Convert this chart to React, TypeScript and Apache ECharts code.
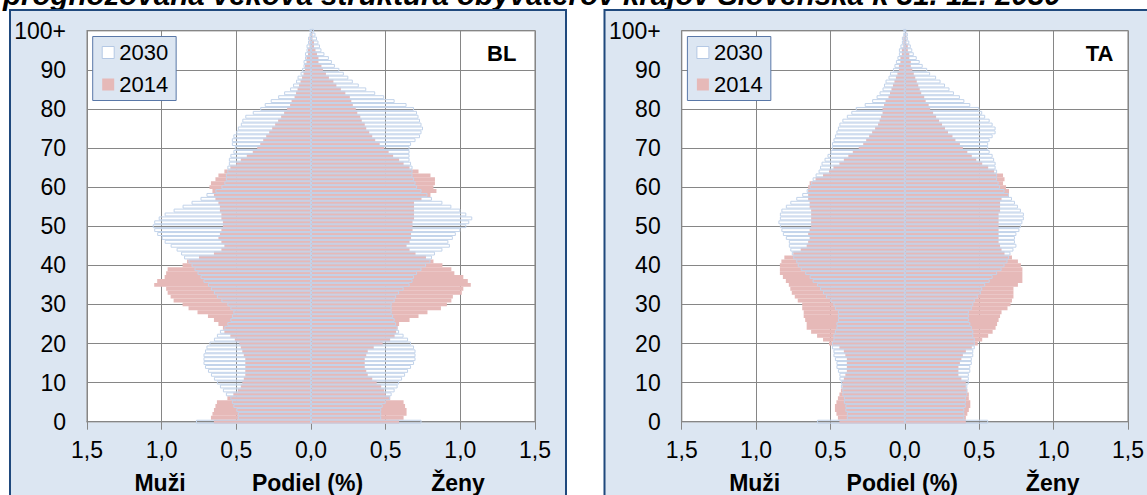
import React, { useEffect, useRef } from 'react';
import * as echarts from 'echarts';

// Age categories 0 .. 100+
const AGES: string[] = Array.from({ length: 101 }, (_, i) => (i === 100 ? '100+' : String(i)));
const SERIES_NAMES = ['2030', '2014'];
const PANEL_CODES = ['BL', 'TA'];
const X_TITLES = ['Muži', 'Podiel (%)', 'Ženy'];
const TITLE = 'prognozovaná veková štruktúra obyvateľov krajov Slovenska k 31. 12. 2030';

// BL – shares (%) by single year of age, 0..100+
const BL_M_2030 = [
  0.77, 0.49, 0.49, 0.50, 0.52, 0.53, 0.54, 0.57, 0.59, 0.61,
  0.63, 0.65, 0.67, 0.69, 0.71, 0.72, 0.72, 0.72, 0.71, 0.70,
  0.68, 0.65, 0.63, 0.61, 0.58, 0.56, 0.54, 0.53, 0.52, 0.54,
  0.56, 0.60, 0.63, 0.65, 0.67, 0.69, 0.72, 0.74, 0.76, 0.78,
  0.80, 0.82, 0.85, 0.87, 0.90, 0.94, 0.98, 1.00, 1.03, 1.05,
  1.06, 1.05, 1.02, 0.98, 0.92, 0.86, 0.80, 0.74, 0.70, 0.64,
  0.60, 0.58, 0.57, 0.57, 0.56, 0.56, 0.55, 0.55, 0.54, 0.52,
  0.51, 0.53, 0.53, 0.52, 0.50, 0.49, 0.47, 0.46, 0.44, 0.39,
  0.34, 0.31, 0.27, 0.22, 0.18, 0.14, 0.12, 0.10, 0.09, 0.07,
  0.06, 0.05, 0.05, 0.04, 0.04, 0.03, 0.03, 0.02, 0.02, 0.01,
  0.01,
];
const BL_M_2014 = [
  0.65, 0.67, 0.66, 0.65, 0.64, 0.63, 0.56, 0.52, 0.49, 0.47,
  0.46, 0.45, 0.44, 0.44, 0.44, 0.44, 0.44, 0.45, 0.46, 0.47,
  0.48, 0.51, 0.54, 0.58, 0.59, 0.62, 0.65, 0.69, 0.76, 0.82,
  0.86, 0.92, 0.94, 0.96, 0.97, 1.05, 1.03, 0.98, 0.97, 0.96,
  0.86, 0.83, 0.75, 0.65, 0.60, 0.58, 0.60, 0.62, 0.61, 0.60,
  0.59, 0.59, 0.60, 0.60, 0.61, 0.61, 0.62, 0.64, 0.65, 0.66,
  0.68, 0.67, 0.64, 0.62, 0.58, 0.54, 0.50, 0.47, 0.43, 0.39,
  0.36, 0.34, 0.32, 0.30, 0.28, 0.26, 0.24, 0.22, 0.20, 0.18,
  0.16, 0.14, 0.13, 0.11, 0.10, 0.09, 0.08, 0.07, 0.06, 0.05,
  0.04, 0.04, 0.03, 0.03, 0.02, 0.02, 0.01, 0.01, 0.01, 0.00,
  0.00,
];
const BL_F_2030 = [
  0.74, 0.47, 0.47, 0.47, 0.48, 0.50, 0.53, 0.54, 0.56, 0.58,
  0.59, 0.61, 0.63, 0.65, 0.67, 0.69, 0.70, 0.70, 0.70, 0.69,
  0.67, 0.65, 0.62, 0.59, 0.58, 0.57, 0.56, 0.55, 0.54, 0.54,
  0.54, 0.56, 0.57, 0.59, 0.62, 0.66, 0.68, 0.69, 0.71, 0.74,
  0.77, 0.80, 0.81, 0.83, 0.88, 0.93, 0.92, 0.95, 0.97, 1.00,
  1.04, 1.06, 1.08, 1.04, 1.00, 0.94, 0.88, 0.81, 0.78, 0.74,
  0.71, 0.70, 0.69, 0.68, 0.68, 0.68, 0.67, 0.66, 0.66, 0.66,
  0.66, 0.67, 0.70, 0.73, 0.74, 0.75, 0.74, 0.73, 0.72, 0.71,
  0.69, 0.64, 0.56, 0.49, 0.43, 0.37, 0.32, 0.28, 0.25, 0.22,
  0.19, 0.16, 0.14, 0.12, 0.09, 0.07, 0.06, 0.05, 0.04, 0.03,
  0.02,
];
const BL_F_2014 = [
  0.59, 0.62, 0.64, 0.64, 0.63, 0.62, 0.53, 0.50, 0.49, 0.47,
  0.44, 0.41, 0.38, 0.37, 0.36, 0.36, 0.36, 0.37, 0.38, 0.42,
  0.48, 0.53, 0.56, 0.57, 0.58, 0.59, 0.66, 0.72, 0.78, 0.87,
  0.91, 0.94, 0.95, 1.01, 1.02, 1.07, 1.05, 1.02, 0.96, 0.94,
  0.88, 0.82, 0.77, 0.70, 0.66, 0.64, 0.66, 0.67, 0.67, 0.68,
  0.68, 0.68, 0.69, 0.69, 0.69, 0.69, 0.69, 0.74, 0.80, 0.84,
  0.82, 0.83, 0.83, 0.80, 0.72, 0.66, 0.62, 0.59, 0.55, 0.52,
  0.49, 0.46, 0.43, 0.41, 0.39, 0.37, 0.36, 0.34, 0.33, 0.31,
  0.30, 0.28, 0.27, 0.26, 0.23, 0.20, 0.17, 0.15, 0.12, 0.10,
  0.08, 0.07, 0.05, 0.05, 0.04, 0.03, 0.02, 0.02, 0.01, 0.01,
  0.00,
];

// TA – shares (%) by single year of age, 0..100+
const TA_M_2030 = [
  0.59, 0.39, 0.39, 0.40, 0.40, 0.41, 0.41, 0.42, 0.42, 0.43,
  0.43, 0.44, 0.44, 0.45, 0.46, 0.46, 0.47, 0.48, 0.48, 0.49,
  0.49, 0.48, 0.48, 0.47, 0.46, 0.46, 0.45, 0.45, 0.45, 0.47,
  0.48, 0.50, 0.53, 0.55, 0.57, 0.59, 0.62, 0.64, 0.67, 0.70,
  0.72, 0.73, 0.75, 0.76, 0.77, 0.78, 0.78, 0.80, 0.82, 0.83,
  0.84, 0.85, 0.84, 0.84, 0.83, 0.80, 0.77, 0.73, 0.69, 0.66,
  0.64, 0.63, 0.62, 0.60, 0.58, 0.57, 0.56, 0.54, 0.52, 0.50,
  0.49, 0.49, 0.48, 0.47, 0.46, 0.45, 0.44, 0.42, 0.39, 0.36,
  0.33, 0.27, 0.22, 0.19, 0.17, 0.15, 0.14, 0.13, 0.11, 0.10,
  0.08, 0.07, 0.06, 0.05, 0.04, 0.04, 0.03, 0.02, 0.02, 0.01,
  0.01,
];
const TA_M_2014 = [
  0.44, 0.45, 0.46, 0.47, 0.47, 0.46, 0.45, 0.44, 0.43, 0.42,
  0.42, 0.41, 0.40, 0.39, 0.39, 0.39, 0.39, 0.40, 0.41, 0.44,
  0.51, 0.55, 0.59, 0.63, 0.66, 0.66, 0.67, 0.68, 0.68, 0.69,
  0.69, 0.72, 0.74, 0.76, 0.77, 0.78, 0.80, 0.82, 0.84, 0.84,
  0.84, 0.83, 0.81, 0.75, 0.70, 0.66, 0.65, 0.64, 0.65, 0.64,
  0.63, 0.63, 0.63, 0.63, 0.63, 0.64, 0.64, 0.65, 0.65, 0.65,
  0.65, 0.64, 0.60, 0.55, 0.51, 0.48, 0.44, 0.41, 0.38, 0.35,
  0.31, 0.28, 0.26, 0.24, 0.22, 0.20, 0.18, 0.17, 0.16, 0.15,
  0.15, 0.14, 0.13, 0.11, 0.10, 0.09, 0.08, 0.07, 0.06, 0.05,
  0.04, 0.04, 0.03, 0.03, 0.02, 0.02, 0.01, 0.01, 0.01, 0.00,
  0.00,
];
const TA_F_2030 = [
  0.56, 0.40, 0.40, 0.40, 0.41, 0.41, 0.41, 0.42, 0.42, 0.42,
  0.43, 0.43, 0.43, 0.44, 0.44, 0.45, 0.45, 0.46, 0.46, 0.47,
  0.47, 0.47, 0.46, 0.46, 0.45, 0.44, 0.43, 0.43, 0.43, 0.45,
  0.46, 0.47, 0.49, 0.51, 0.52, 0.54, 0.57, 0.59, 0.62, 0.65,
  0.67, 0.69, 0.70, 0.71, 0.73, 0.75, 0.74, 0.74, 0.75, 0.77,
  0.78, 0.79, 0.80, 0.80, 0.78, 0.76, 0.74, 0.72, 0.70, 0.67,
  0.64, 0.63, 0.62, 0.62, 0.62, 0.61, 0.61, 0.60, 0.59, 0.57,
  0.56, 0.56, 0.57, 0.59, 0.61, 0.61, 0.59, 0.57, 0.54, 0.52,
  0.50, 0.44, 0.40, 0.37, 0.33, 0.30, 0.27, 0.24, 0.21, 0.17,
  0.15, 0.12, 0.10, 0.08, 0.06, 0.05, 0.04, 0.03, 0.02, 0.02,
  0.01,
];
const TA_F_2014 = [
  0.41, 0.41, 0.42, 0.43, 0.44, 0.44, 0.43, 0.43, 0.42, 0.41,
  0.41, 0.38, 0.36, 0.36, 0.36, 0.37, 0.38, 0.39, 0.41, 0.45,
  0.49, 0.52, 0.56, 0.59, 0.61, 0.62, 0.63, 0.64, 0.65, 0.69,
  0.71, 0.72, 0.73, 0.73, 0.73, 0.76, 0.79, 0.79, 0.79, 0.79,
  0.78, 0.76, 0.72, 0.67, 0.65, 0.64, 0.63, 0.63, 0.63, 0.63,
  0.63, 0.63, 0.63, 0.63, 0.64, 0.64, 0.64, 0.65, 0.70, 0.70,
  0.68, 0.66, 0.67, 0.66, 0.60, 0.56, 0.52, 0.48, 0.45, 0.42,
  0.39, 0.37, 0.34, 0.32, 0.29, 0.27, 0.25, 0.23, 0.21, 0.19,
  0.17, 0.16, 0.14, 0.13, 0.11, 0.10, 0.09, 0.08, 0.07, 0.06,
  0.05, 0.04, 0.04, 0.03, 0.03, 0.02, 0.02, 0.01, 0.01, 0.01,
  0.00,
];

const PANELS = [
  { code: PANEL_CODES[0], m30: BL_M_2030, m14: BL_M_2014, f30: BL_F_2030, f14: BL_F_2014 },
  { code: PANEL_CODES[1], m30: TA_M_2030, m14: TA_M_2014, f30: TA_F_2030, f14: TA_F_2014 },
];

const FONT = '"Liberation Sans", Arial, sans-serif';
const PINK = '#E6B9B8';
const BLUE = '#C2D3EA';
const GRID_GRAY = '#868686';
const PANEL_BG = '#DCE6F2';
const NAVY = '#1F497D';

// layout
const PANEL_X = [10, 604.5];
const PLOT_LEFT = [87, 681.7];
const CODE_X = [487, 1085.7];
const PLOT_W = 448;
const PLOT_TOP = 30.7;
const PLOT_H = 391;
const FS = 23;

const fmtX = (v: number) => Math.abs(v).toFixed(1).replace('.', ',');

export default function App() {
  const ref = useRef<HTMLDivElement>(null);
  useEffect(() => {
    if (!ref.current) return;
    const chart = echarts.init(ref.current, undefined, { renderer: 'svg' });

    const grids: any[] = [];
    const xAxes: any[] = [];
    const yAxes: any[] = [];
    const series: any[] = [];
    const legends: any[] = [];
    const graphics: any[] = [];

    graphics.push({
      type: 'text',
      x: 3,
      y: -5.5,
      z: -20,
      style: {
        text: TITLE,
        font: `italic bold 29.5px ${FONT}`,
        fill: '#000',
        textAlign: 'left',
        textVerticalAlign: 'middle',
      },
    });

    PANELS.forEach((p, i) => {
      const cx = PLOT_LEFT[i] + PLOT_W / 2;
      graphics.push({
        type: 'rect',
        z: -10,
        shape: { x: PANEL_X[i], y: 10, width: 556, height: 520 },
        style: { fill: PANEL_BG, stroke: NAVY, lineWidth: 2 },
      });
      graphics.push({
        type: 'text',
        x: CODE_X[i],
        y: 53.5,
        z: 10,
        style: {
          text: p.code,
          font: `bold 22px ${FONT}`,
          fill: '#000',
          textAlign: 'left',
          textVerticalAlign: 'middle',
        },
      });
      const offs = [-151, -3.5, 147];
      X_TITLES.forEach((t, k) => {
        graphics.push({
          type: 'text',
          x: cx + offs[k],
          y: 483,
          z: 10,
          style: {
            text: t,
            font: `bold ${FS}px ${FONT}`,
            fill: '#000',
            textAlign: 'center',
            textVerticalAlign: 'middle',
          },
        });
      });

      grids.push({
        left: PLOT_LEFT[i],
        top: PLOT_TOP,
        width: PLOT_W,
        height: PLOT_H,
        show: true,
        backgroundColor: '#fff',
        borderColor: '#A6A6A6',
        borderWidth: 1.5,
      });
      xAxes.push({
        gridIndex: i,
        type: 'value',
        min: -1.5,
        max: 1.5,
        interval: 0.5,
        axisLine: { show: true, onZero: false, lineStyle: { color: GRID_GRAY, width: 1 } },
        axisTick: { show: true, length: 8, lineStyle: { color: GRID_GRAY } },
        axisLabel: { formatter: fmtX, fontSize: FS, color: '#000', margin: 17, fontFamily: FONT },
        splitLine: { show: true, lineStyle: { color: GRID_GRAY, width: 1 } },
      });
      yAxes.push({
        gridIndex: i,
        type: 'category',
        data: AGES,
        boundaryGap: false,
        position: 'left',
        axisLine: { show: false, onZero: false },
        axisTick: { show: false },
        axisLabel: { interval: 9, fontSize: FS, color: '#000', margin: 21, fontFamily: FONT },
        splitLine: { show: true, interval: 9, lineStyle: { color: GRID_GRAY, width: 1 } },
      });
      [false, true].forEach((inside) => {
        yAxes.push({
          gridIndex: i,
          type: 'category',
          data: AGES,
          boundaryGap: false,
          position: 'left',
          axisLine: { show: true, onZero: true, onZeroAxisIndex: i, lineStyle: { color: GRID_GRAY, width: 1 } },
          axisTick: { show: true, interval: 9, inside, length: 8, lineStyle: { color: GRID_GRAY } },
          axisLabel: { show: false },
          splitLine: { show: false },
        });
      });

      const yIdx = i * 3;
      const common = {
        type: 'bar',
        xAxisIndex: i,
        yAxisIndex: yIdx,
        barGap: '-100%',
        barCategoryGap: '0%',
        clip: true,
        silent: true,
      };
      series.push({ ...common, name: SERIES_NAMES[1], data: p.m14.map((v) => -v), itemStyle: { color: PINK } });
      series.push({ ...common, name: SERIES_NAMES[1], data: p.f14, itemStyle: { color: PINK } });
      series.push({
        ...common,
        name: SERIES_NAMES[0],
        data: p.m30.map((v) => -v),
        itemStyle: { color: 'rgba(255,255,255,0)', borderColor: BLUE, borderWidth: 1 },
      });
      series.push({
        ...common,
        name: SERIES_NAMES[0],
        data: p.f30,
        itemStyle: { color: 'rgba(255,255,255,0)', borderColor: BLUE, borderWidth: 1 },
      });

      legends.push({
        left: PLOT_LEFT[i] + 5.7,
        top: 36.5,
        orient: 'vertical',
        backgroundColor: PANEL_BG,
        borderColor: '#5A78A8',
        borderWidth: 1,
        padding: [5, 8, 5, 9],
        itemWidth: 12,
        itemHeight: 12,
        itemGap: 10,
        selectedMode: false,
        textStyle: { fontSize: 22, color: '#000', fontFamily: FONT, lineHeight: 22 },
        data: [
          { name: SERIES_NAMES[0], icon: 'rect', itemStyle: { color: '#fff', borderColor: '#B4C8E4', borderWidth: 1 } },
          { name: SERIES_NAMES[1], icon: 'rect', itemStyle: { color: PINK, borderWidth: 0 } },
        ],
      });
    });

    chart.setOption({
      animation: false,
      backgroundColor: '#fff',
      textStyle: { fontFamily: FONT },
      grid: grids,
      xAxis: xAxes,
      yAxis: yAxes,
      legend: legends,
      series,
      graphic: { elements: graphics },
    });
    return () => chart.dispose();
  }, []);

  return (
    <div
      ref={ref}
      style={{ position: 'fixed', left: 0, top: 0, width: 1147, height: 495, background: '#fff' }}
    />
  );
}
